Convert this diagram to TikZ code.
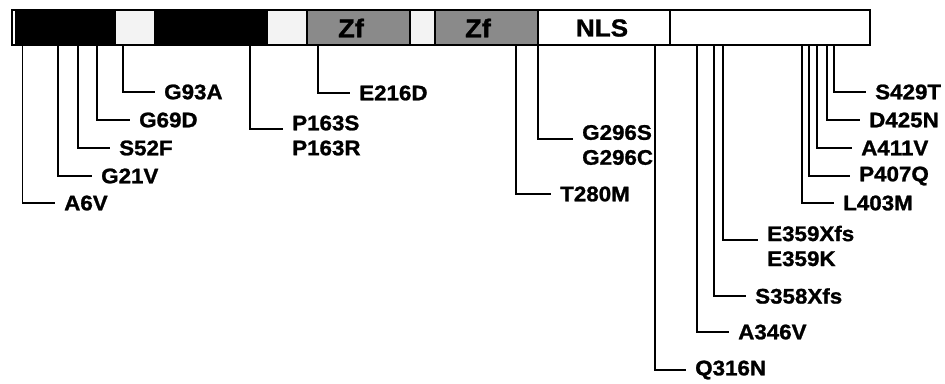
\documentclass[tikz,border=0pt]{standalone}
\usepackage{fontspec}
\setmainfont{Liberation Sans}
\newfontfamily\mutfont{Liberation Sans Bold}[FakeStretch=1.06, FakeBold=1.2]
\usetikzlibrary{positioning, calc}
\definecolor{cZF}{HTML}{8A8A8A}
\definecolor{cPALE}{HTML}{F3F3F3}
\tikzset{
  segbox/.style={
    draw=black, line width=1.4pt
  },
  domlabel/.style={
    font=\mutfont\fontsize{22}{24}\selectfont,
    inner sep=0pt
  },
  mut/.style={
    font=\mutfont\fontsize{18}{21.3}\selectfont,
    anchor=west, align=left,
    inner ysep=0pt, inner xsep=0.27cm
  },
  leader/.style={
    line width=1pt, draw=black
  }
}

\begin{document}
\begin{tikzpicture}[x=0.03cm, y=-0.03cm]
  \useasboundingbox (0,0) rectangle (945,383);

  % protein bar
  \foreach \a/\b/\c in {12/16/white, 16/115/black, 115/155/cPALE, 155/267/black,
      267/307/cPALE, 307/410/cZF, 410/435/cPALE, 435/538/cZF, 538/670/white, 670/870/white}
    \draw[segbox, fill=\c] (\a,10) rectangle (\b,45);

  \node[domlabel] (zf1) at (351,28) {Zf};
  \node[domlabel] (zf2) at (478,28) {Zf};
  \node[domlabel, font=\mutfont\fontsize{21}{24}\selectfont] (nls) at (602,28) {NLS};

  % mutations
  \foreach \n/\x/\y/\e/\sh/\lbl in {
      a6v/22.7/203/55/0/A6V, g21v/58/176/92/0/G21V, s52f/78/148/110/0/S52F,
      g69d/97/120/130/0/G69D, g93a/123/92/155/0/G93A,
      p163/250/129/283/6.5/{P163S\\P163R}, e216d/318/93/350/0/E216D,
      t280m/516/194/551/0/T280M, g296/538/139/573/6/{G296S\\G296C},
      q316n/655/370/686/0/Q316N, a346v/697/332/729/0/A346V,
      s358/714/296/746/0/S358Xfs, e359/723/240/758/6/{E359Xfs\\E359K},
      l403m/802/203/834/0/L403M, p407q/809/176/850/0/P407Q,
      a411v/817/148/852/0/A411V, d425n/827/120/860/0/D425N,
      s429t/834/92/866/0/S429T}{
    \coordinate (t\n) at (\x,45);
    \node[mut, yshift=-\sh*0.03cm] (m\n) at (\e,\y) {\lbl};
    \draw[leader] (t\n) |- ([yshift=\sh*0.03cm]m\n.west);
  }
\end{tikzpicture}
\end{document}
